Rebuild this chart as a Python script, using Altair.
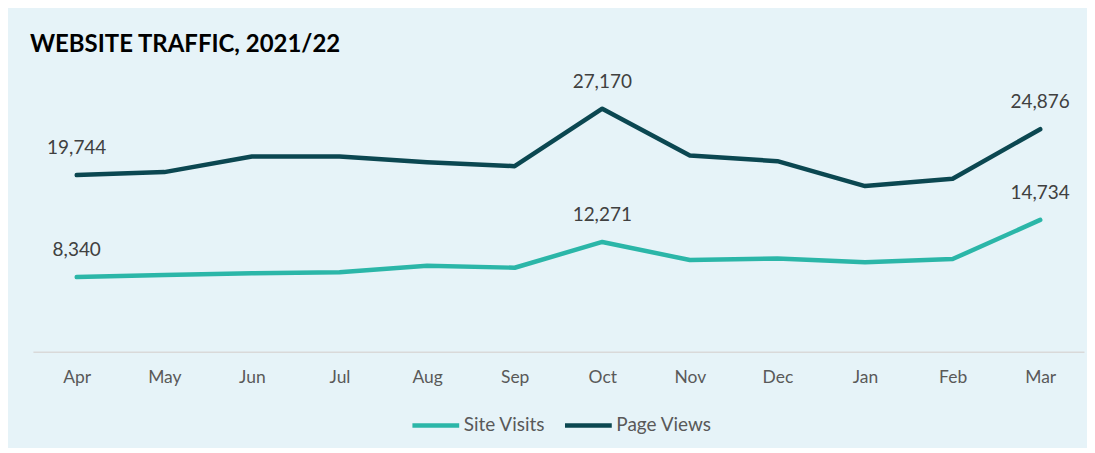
import altair as alt
import pandas as pd

months = ["Apr", "May", "Jun", "Jul", "Aug", "Sep", "Oct", "Nov", "Dec", "Jan", "Feb", "Mar"]
site_visits = [8340, 8575, 8765, 8875, 9610, 9385, 12271, 10245, 10430, 9990, 10355, 14734]
page_views = [19744, 20080, 21825, 21825, 21190, 20745, 27170, 21940, 21300, 18520, 19345, 24876]
series_names = ["Site Visits", "Page Views"]
series_colors = ["#2bb6a8", "#0b4751"]
label_months = ["Apr", "Oct", "Mar"]

rows = []
for i, m in enumerate(months):
    rows.append({"month": m, "series": "Site Visits", "value": site_visits[i], "order": i})
    rows.append({"month": m, "series": "Page Views", "value": page_views[i], "order": i})
df = pd.DataFrame(rows)
df["label"] = df.apply(lambda r: f"{r['value']:,}" if r["month"] in label_months else "", axis=1)

FONT = "Lato"

x = alt.X("month:N", sort=months, scale=alt.Scale(type="point", padding=0.5),
          axis=alt.Axis(title=None, labelAngle=0, ticks=False, domainColor="#d9d9d9",
                        domainWidth=1.5, labelColor="#595959", labelFontSize=17.5,
                        labelPadding=17, labelFont=FONT))
y = alt.Y("value:Q", scale=alt.Scale(domain=[0, 30000], nice=False), axis=None)
color = alt.Color("series:N", sort=series_names,
                  scale=alt.Scale(domain=series_names, range=series_colors),
                  legend=alt.Legend(title=None, orient="none", direction="horizontal",
                                    legendX=378, legendY=317, symbolType="stroke",
                                    symbolSize=2200, symbolStrokeWidth=4.5,
                                    labelFontSize=19, labelColor="#595959", labelFont=FONT,
                                    columnPadding=10, labelOffset=2))

base = alt.Chart(df)
lines = base.mark_line(strokeWidth=4.5, strokeCap="round", strokeJoin="round").encode(
    x=x, y=y, color=color, order="order:Q", detail="series:N")
labels = base.transform_filter(alt.datum.label != "").mark_text(
    dy=-27, fontSize=19, color="#404040", font=FONT, baseline="middle").encode(
    x=alt.X("month:N", sort=months), y="value:Q", text="label:N")

chart = (lines + labels).properties(
    width=1054, height=269,
    autosize=alt.AutoSizeParams(type="none"),
    padding={"left": 25, "right": 3, "top": 75, "bottom": 96},
    title=alt.Title("WEBSITE TRAFFIC, 2021/22", anchor="start", dx=-3, offset=16,
                    fontSize=24, fontWeight="bold", color="#000000", font=FONT),
).configure(background="#e6f3f8").configure_view(stroke=None)

chart.save("out.html", embed_options={"renderer": "svg", "actions": False})
